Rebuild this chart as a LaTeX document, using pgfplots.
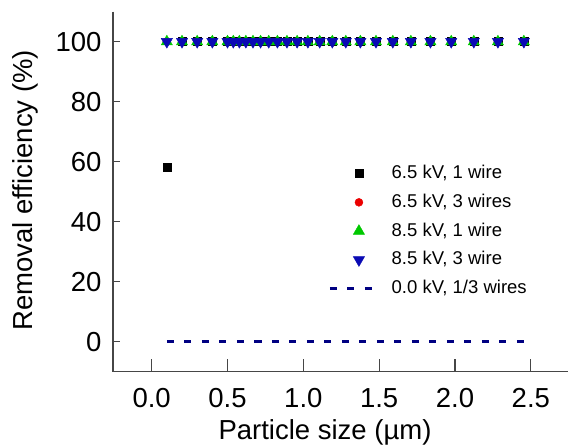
\documentclass[border=0pt]{standalone}
\usepackage{pgfplots}
\pgfplotsset{compat=1.18}
\usepackage{pgfplotstable}
\usepackage{fontspec}
\setmainfont{Liberation Sans}

\definecolor{cred}{RGB}{235,0,0}
\definecolor{cgreen}{RGB}{0,200,0}
\definecolor{cblue}{RGB}{10,10,180}
\definecolor{cnavy}{RGB}{0,0,130}
\definecolor{axisgray}{RGB}{70,70,70}

% removal efficiency (%) per particle size channel (um)
\pgfplotstableread{
x      aa   ab   ba   bb   off
0.100  58   100  100  100  0
0.200  100  100  100  100  0
0.300  100  100  100  100  0
0.400  100  100  100  100  0
0.500  100  100  100  100  0
0.538  100  100  100  100  0
0.578  100  100  100  100  0
0.621  100  100  100  100  0
0.668  100  100  100  100  0
0.718  100  100  100  100  0
0.772  100  100  100  100  0
0.829  100  100  100  100  0
0.892  100  100  100  100  0
0.959  100  100  100  100  0
1.030  100  100  100  100  0
1.108  100  100  100  100  0
1.191  100  100  100  100  0
1.280  100  100  100  100  0
1.376  100  100  100  100  0
1.479  100  100  100  100  0
1.590  100  100  100  100  0
1.709  100  100  100  100  0
1.838  100  100  100  100  0
1.975  100  100  100  100  0
2.124  100  100  100  100  0
2.283  100  100  100  100  0
2.454  100  100  100  100  0
}\efftable

\pgfplotsset{
  markimg/.style={legend image code/.code={
    \path[draw=none, fill=none] (0pt,-5pt) rectangle (43pt,5pt);
    \draw[##1] plot coordinates {(29pt,0pt)};}},
  lineimg/.style={legend image code/.code={
    \path[draw=none, fill=none] (0pt,-5pt) rectangle (43pt,5pt);
    \draw[##1] (0pt,0pt) -- (43pt,0pt);}},
}

\begin{document}
\begin{tikzpicture}
\useasboundingbox (0,0) rectangle (568pt,446pt);
\begin{axis}[
  at={(113pt,74.3pt)}, anchor=south west,
  scale only axis, width=455pt, height=360pt,
  xmin=-0.255, xmax=2.745, ymin=-10, ymax=110,
  axis line style={draw=none},
  xtick pos=bottom, ytick pos=left,
  major tick length=0pt,
  xtick={0,0.5,1,1.5,2,2.5},
  ytick={0,20,40,60,80,100},
  /pgf/number format/assume math mode=true,
  x tick label style={/pgf/number format/fixed, /pgf/number format/fixed zerofill,
    /pgf/number format/precision=1, yshift=-13pt},
  ticklabel style={font=\fontsize{27.5}{30}\selectfont},
  y tick label style={xshift=-8pt},
  label style={font=\fontsize{27.5}{30}\selectfont},
  xlabel={Particle size (µm)},
  ylabel={Removal efficiency (\%)},
  xlabel style={at={(axis description cs:0.466,-0.1897)}, anchor=base},
  ylabel style={at={(axis description cs:-0.193,0.504)}, anchor=center},
  legend style={draw=none, fill=none, inner sep=0pt,
    at={(axis description cs:0.4725,0.576)}, anchor=north west,
    font=\fontsize{18.5}{20}\selectfont,
    nodes={inner sep=0pt, text height=14pt, text depth=4pt},
    row sep=10.8pt, column sep=17pt},
  legend cell align=left,
  clip=false,
]
% left and bottom axis lines with inward ticks, as one path
\draw[axisgray, line width=1.1pt]
  (axis cs:-0.255,110) -- (axis cs:-0.255,-10) -- (axis cs:2.745,-10)
  (axis cs:0,-10) -- (axis cs:0,-5.67)
  (axis cs:0.5,-10) -- (axis cs:0.5,-5.67)
  (axis cs:1,-10) -- (axis cs:1,-5.67)
  (axis cs:1.5,-10) -- (axis cs:1.5,-5.67)
  (axis cs:2,-10) -- (axis cs:2,-5.67)
  (axis cs:2.5,-10) -- (axis cs:2.5,-5.67)
  (axis cs:-0.255,0) -- (axis cs:-0.209,0)
  (axis cs:-0.255,20) -- (axis cs:-0.209,20)
  (axis cs:-0.255,40) -- (axis cs:-0.209,40)
  (axis cs:-0.255,60) -- (axis cs:-0.209,60)
  (axis cs:-0.255,80) -- (axis cs:-0.209,80)
  (axis cs:-0.255,100) -- (axis cs:-0.209,100);
\addplot[only marks, mark=square*, mark size=4pt, black, markimg]
  table[x=x, y=aa] {\efftable};
\addlegendentry{6.5 kV, 1 wire}
\addplot[only marks, mark=*, mark size=4pt, cred, markimg]
  table[x=x, y=ab] {\efftable};
\addlegendentry{6.5 kV, 3 wires}
\addplot[only marks, mark=triangle*, mark size=6.5pt, cgreen, markimg]
  table[x=x, y=ba] {\efftable};
\addlegendentry{8.5 kV, 1 wire}
\addplot[only marks, mark=triangle*, mark size=6.5pt, cblue,
  mark options={rotate=180}, markimg]
  table[x=x, y=bb] {\efftable};
\addlegendentry{8.5 kV, 3 wire}
\addplot[cnavy, line width=3.5pt, dash pattern=on 7pt off 10.5pt, mark=none, lineimg]
  table[x=x, y=off] {\efftable};
\addlegendentry{0.0 kV, 1/3 wires}
\end{axis}
\end{tikzpicture}
\end{document}
